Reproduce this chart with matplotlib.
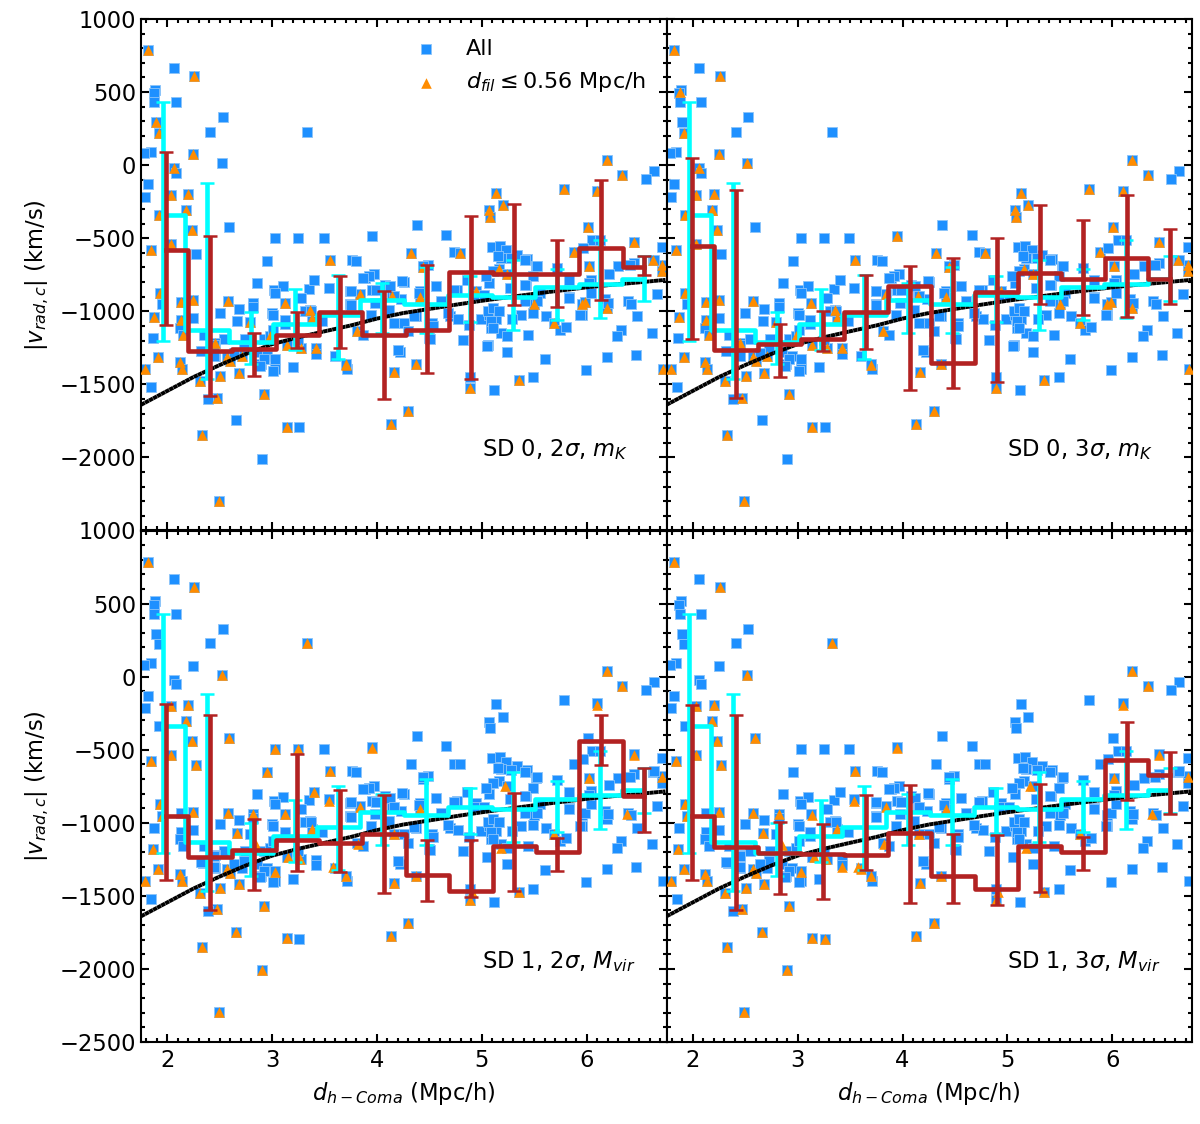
import matplotlib
matplotlib.use('Agg')
import matplotlib.pyplot as plt
from matplotlib.ticker import MultipleLocator, FuncFormatter
import numpy as np

# all galaxies: (d_h-Coma, v)
all_points = [
    (1.82,785),(2.06,666),(2.26,610),(1.885,516),(1.87,493),(1.876,432),(2.08,432),(2.53,329),(1.895,295),(1.92,220),
    (2.41,227),(3.33,227),(1.845,92),(1.78,83),(2.25,76),(2.52,12),(2.06,-22),(2.08,-51),(1.82,-131),(1.79,-217),
    (2.035,-202),(2.2,-197),(2.18,-304),(1.925,-338),(2.235,-443),(2.59,-420),(3.03,-496),(3.25,-498),(3.49,-498),(3.95,-484),
    (2.035,-537),(1.845,-578),(2.27,-605),(2.955,-655),(3.55,-646),(3.76,-646),(3.8,-655),
    (1.93,-874),(2.13,-935),(2.25,-924),(2.575,-933),(1.95,-953),(2.5,-1010),(2.68,-983),(1.87,-1038),(2.13,-1063),
    (2.25,-1047),(2.67,-1068),(2.82,-942),(2.82,-970),(2.86,-805),(3.02,-851),(3.1,-824),(3.03,-874),(3.35,-846),(3.4,-789),
    (3.54,-839),(3.28,-908),(3.125,-942),(3.36,-988),(3.38,-1045),(3.0,-1010),(2.79,-1074),(2.12,-1113),(2.155,-1159),(1.86,-1181),
    (2.35,-1159),(2.545,-1193),(2.455,-1220),(1.915,-1314),(1.79,-1398),(2.12,-1348),(2.14,-1398),(1.85,-1519),(2.34,-1273),(2.455,-1307),
    (2.57,-1314),(2.6,-1341),(2.71,-1307),(2.505,-1443),(2.31,-1478),(2.68,-1420),(2.47,-1591),(2.385,-1603),(2.92,-1569),(2.66,-1746),
    (3.14,-1790),(3.26,-1792),(2.33,-1847),(2.9,-2008),(2.49,-2298),(4.13,-1774),(3.2,-1382),(3.03,-1398),(2.89,-1364),(2.95,-1307),
    (3.03,-1329),(3.71,-1398),(3.7,-1364),(3.6,-1307),(4.165,-1414),(3.42,-1254),(3.42,-1290),(3.745,-863),(3.745,-953),(3.89,-771),
    (3.97,-748),(3.84,-885),(4.08,-817),(3.95,-851),(3.98,-940),(4.145,-897),(3.81,-1136),(2.92,-1193),(2.98,-1170),(3.14,-1234),
    (3.28,-1250),(3.01,-1125),(3.12,-1090),(2.74,-1193),(2.73,-1261),(2.855,-1282),(2.92,-1329),
    (6.19,38),(6.34,-65),(6.64,-38),(6.56,-92),(5.78,-163),(6.1,-179),(5.13,-190),(5.2,-275),(5.07,-309),(5.08,-354),
    (6.01,-422),(4.38,-407),(4.66,-477),(4.32,-600),(4.73,-596),(4.79,-600),(6.45,-528),(6.05,-509),(6.13,-509),(6.72,-559),
    (5.1,-559),(5.17,-550),(5.23,-582),(5.18,-634),(5.43,-641),(5.88,-596),(5.96,-566),(5.33,-612),(6.02,-692),(5.52,-692),
    (4.49,-680),(4.44,-699),(5.16,-714),(5.24,-748),(6.3,-692),(6.45,-668),(6.63,-651),(6.72,-680),(6.72,-726),(6.21,-742),
    (6.04,-783),(4.255,-801),(4.56,-828),(4.41,-862),(4.41,-903),(4.76,-851),(4.94,-862),(5.07,-805),(5.27,-839),(5.42,-817),
    (5.55,-874),(5.5,-947),(5.83,-901),(5.95,-947),(5.985,-935),(6.19,-976),(6.17,-919),(6.04,-874),(6.39,-931),(6.42,-949),
    (6.67,-885),(4.23,-919),(4.61,-931),(4.37,-1033),(4.255,-1079),(4.525,-1079),(4.7,-1033),(4.77,-1051),(4.88,-1095),(4.99,-1056),
    (5.07,-1022),(5.13,-1056),(5.09,-1113),(5.18,-1147),(5.24,-1170),(5.37,-1022),(5.49,-1015),(5.29,-1056),(5.44,-1159),(5.61,-1033),
    (5.69,-1079),(5.74,-1125),(5.8,-1106),(5.95,-1024),(6.48,-1033),(6.33,-1125),(6.29,-1170),(6.62,-1147),(4.5,-1181),(4.82,-1195),
    (5.06,-1234),(5.24,-1280),(5.6,-1325),(6.19,-1316),(6.47,-1302),(4.22,-1282),(4.37,-1362),(5.99,-1403),(5.35,-1473),(5.49,-1450),
    (4.89,-1450),(4.89,-1526),(5.12,-1539),(4.3,-1683),(6.73,-1398),
    (5.11,-725),(5.04,-760),(4.44,-690),(3.92,-760),(3.87,-772),(4.24,-795),(4.73,-855),(4.86,-786),(3.75,-861),(4.4,-875),
    (4.12,-828),(3.99,-855),(4.16,-895),(3.75,-957),(4.11,-991),(4.68,-1012),(4.35,-1032),(3.94,-1025),(4.53,-1100),(3.48,-1066),
    (4.3,-1135),(3.87,-1162),(4.51,-1189),(5.05,-1237),(4.2,-1264),(5.06,-998),(5.09,-1066),(5.11,-977),(4.92,-889),(5.02,-889),
    (5.15,-622),(5.28,-636),(5.41,-650),(5.53,-690),(5.49,-759),(5.41,-820),(5.72,-704),(5.83,-786),(6.02,-807),(6.41,-684),
    (6.64,-649),(6.2,-943),(5.83,-909),(5.94,-1025),(5.16,-998),(5.11,-1114),(5.41,-930),(5.53,-930),(3.31,-998),(3.37,-998),
    (3.01,-1408),(2.88,-1374),(2.64,-1285),(2.45,-1305),(2.32,-1271),(2.45,-1230),(3.12,-1060),(3.01,-1025),(3.25,-1196),(4.16,-1080),
]

# filament members seen in every panel
tri_common = [
    (1.82,785),(2.26,610),(2.035,-202),(2.2,-197),(2.235,-443),(2.035,-537),(1.845,-578),(2.18,-304),(3.55,-646),
    (1.915,-1314),(1.79,-1398),(2.57,-1314),(2.6,-1341),(2.505,-1443),(2.68,-1420),(2.31,-1478),(2.47,-1591),(2.92,-1569),
    (3.14,-1790),(2.33,-1847),(2.49,-2298),(4.13,-1774),(4.3,-1683),(4.165,-1414),(3.7,-1367),(2.12,-1348),(2.14,-1398),
    (4.37,-1362),(5.35,-1473),(4.89,-1526),(6.34,-65),(6.19,38),
]
tri_sd0 = [
    (1.92,220),(2.25,76),(2.06,-22),(1.925,-338),(1.93,-874),(2.13,-935),(2.25,-924),(2.575,-933),(1.87,-1038),(2.13,-1063),
    (2.79,-1074),(2.155,-1159),(2.455,-1220),(2.71,-1307),(3.125,-942),(3.36,-988),(3.38,-1045),(2.98,-1170),(3.14,-1234),
    (3.28,-1250),(3.42,-1254),(3.84,-885),(3.81,-1136),(4.145,-897),(5.78,-163),(6.1,-179),(5.13,-190),(5.2,-275),(5.07,-309),
    (5.08,-354),(6.01,-422),(4.32,-600),(4.79,-600),(6.45,-528),(5.88,-596),(6.02,-692),(4.44,-699),(5.16,-714),(5.24,-748),
    (6.63,-651),(6.72,-680),(6.72,-726),(4.41,-903),(4.94,-862),(5.5,-947),(5.95,-947),(5.985,-935),(6.19,-976),(5.69,-1079),(6.73,-1398),
]
tri_sd1 = [
    (3.33,227),(2.52,12),(2.59,-420),(2.27,-605),(1.93,-874),(2.25,-924),(2.575,-933),(2.82,-942),(3.38,-1045),(2.67,-1068),
    (1.95,-953),(2.85,-1152),(1.86,-1181),(3.03,-1340),(3.155,-1237),(3.27,-1250),(2.66,-1746),(2.9,-2008),(3.95,-487),(6.1,-191),
    (6.45,-533),(6.72,-684),(6.02,-692),(5.22,-748),(6.38,-937),(5.69,-1079),(5.18,-1170),(3.54,-848),(3.84,-889),(4.41,-909),
    (4.16,-1080),(3.82,-1148),(3.58,-1305),(4.91,-1476),
]
tri_panel = [
    [(1.895,295),(3.7,-1364)],
    [(1.88,500),(2.52,12),(3.95,-487),(2.18,-304)],
    [(3.03,-496),(3.25,-498),(2.955,-655),(3.4,-789),(3.125,-942)],
    [(3.26,-1792),(3.14,-950),(3.42,-1305),(3.6,-1319)],
]

# black model curve
curve_x = [1.75,2.0,2.25,2.5,2.75,3.0,3.25,3.5,3.75,4.0,4.25,4.5,4.75,5.0,5.25,5.5,5.75,6.0,6.25,6.5,6.75]
curve_y = [-1640,-1545,-1450,-1368,-1292,-1225,-1178,-1137,-1097,-1050,-1012,-984,-955,-928,-904,-880,-858,-836,-818,-802,-785]

# cyan binned profile, same in all panels
cyan_x = [1.96,2.38,2.80,3.22,3.63,4.05,4.47,4.89,5.30,5.72,6.13,6.55]
cyan_y = [-338,-1130,-1207,-1088,-1028,-925,-950,-890,-905,-835,-812,-778]
cyan_hi = [432,-120,-1003,-846,-750,-805,-700,-760,-650,-714,-509,-622]
cyan_lo = [-1206,-1466,-1364,-1266,-1325,-1150,-1150,-1075,-1130,-1060,-1044,-930]

# red binned profile per panel
red_x = [1.99,2.41,2.83,3.24,3.65,4.07,4.48,4.90,5.31,5.72,6.14,6.55]
red_y = [
    [-578,-1273,-1261,-1165,-1006,-1159,-1131,-733,-742,-748,-564,-694],
    [-555,-1268,-1227,-1193,-1008,-824,-1357,-865,-735,-776,-632,-776],
    [-955,-1237,-1183,-1121,-1141,-1080,-1358,-1470,-1160,-1201,-437,-820],
    [-955,-1167,-1204,-1217,-1222,-1073,-1367,-1450,-1162,-1203,-567,-670],
]
red_hi = [
    [92,-482,-1152,-1006,-760,-863,-680,-345,-263,-509,-99,-624],
    [49,-168,-1090,-1000,-755,-692,-632,-496,-270,-373,-202,-434],
    [-185,-260,-977,-526,-777,-807,-1121,-1119,-793,-1107,-265,-622],
    [-191,-260,-996,-1005,-807,-743,-1080,-1085,-738,-1100,-308,-513],
]
red_lo = [
    [-1097,-1580,-1446,-1254,-1254,-1598,-1425,-1466,-958,-972,-926,-753],
    [-1193,-1596,-1453,-1275,-1261,-1541,-1528,-1487,-953,-1022,-1036,-953],
    [-1394,-1597,-1463,-1333,-1338,-1483,-1538,-1510,-1470,-1330,-608,-1066],
    [-1394,-1600,-1484,-1519,-1326,-1547,-1547,-1560,-1476,-1320,-841,-943],
]

panel_text = [r'SD 0, 2$\sigma$, $m_K$', r'SD 0, 3$\sigma$, $m_K$',
              r'SD 1, 2$\sigma$, $M_{vir}$', r'SD 1, 3$\sigma$, $M_{vir}$']

plt.rcParams['font.size'] = 16.3
plt.rcParams['mathtext.default'] = 'it'

fig, axes = plt.subplots(2, 2, figsize=(12, 11.24), dpi=100)
fig.subplots_adjust(left=141/1200, right=1192/1200, top=1-19/1124, bottom=1-1042/1124, wspace=0, hspace=0)

px, py = zip(*all_points)
for i, ax in enumerate(axes.flat):
    tri = tri_common + (tri_sd0 if i < 2 else tri_sd1) + tri_panel[i]
    tx, ty = zip(*tri)
    ax.scatter(px, py, marker='s', s=58, color='dodgerblue', linewidths=0.6, edgecolors='#8cc4f8', label='All', zorder=2)
    ax.scatter(tx, ty, marker='^', s=58, color='darkorange', linewidths=0, label=r'$d_{fil} \leq 0.56$ Mpc/h', zorder=3)
    ax.plot(curve_x, curve_y, color='k', lw=2.8, linestyle=(0, (1.1, 0.08)), zorder=4)

    c = np.array(cyan_y)
    ax.errorbar(cyan_x, c, yerr=[c - np.array(cyan_lo), np.array(cyan_hi) - c], color='cyan', lw=3.3, elinewidth=3.3,
                capsize=5, capthick=1.8, drawstyle='steps-mid', zorder=5)
    r = np.array(red_y[i])
    ax.errorbar(red_x, r, yerr=[r - np.array(red_lo[i]), np.array(red_hi[i]) - r], color='firebrick', lw=3.3, elinewidth=3.3,
                capsize=5, capthick=1.8, drawstyle='steps-mid', zorder=6)

    ax.set_xlim(1.75, 6.76)
    ax.set_ylim(-2500, 1000)
    ax.xaxis.set_major_locator(MultipleLocator(1))
    ax.xaxis.set_minor_locator(MultipleLocator(0.1))
    ax.yaxis.set_major_locator(MultipleLocator(500))
    ax.yaxis.set_minor_locator(MultipleLocator(100))
    ax.tick_params(which='major', direction='in', top=True, right=True, length=6, width=1.5)
    ax.tick_params(which='minor', direction='in', top=True, right=True, length=3, width=1.5)
    ax.tick_params(axis='x', pad=5)
    ax.tick_params(labelbottom=i >= 2, labelleft=i % 2 == 0)
    for s in ax.spines.values():
        s.set_linewidth(1.5)
    ax.text(0.648, 0.158, panel_text[i], transform=ax.transAxes, va='center', ha='left')

for ax in axes[1]:
    ax.set_xlabel(r'$d_{h-Coma}$ (Mpc/h)', labelpad=6)
for ax in axes[:, 0]:
    ax.set_ylabel(r'$|v_{rad,c}|$ (km/s)', labelpad=6)

# the -2500 label of the upper panel would run into the 1000 below it
axes[0, 0].yaxis.set_major_formatter(FuncFormatter(lambda v, p: '' if v == -2500 else f'{v:.0f}'.replace('-', '\u2212')))

axes[0, 0].legend(loc='upper right', frameon=False, fontsize=16, bbox_to_anchor=(1 - 7/525, 1 - 7/512), borderaxespad=0.2, handletextpad=0.8)

fig.savefig('out.png', dpi=100)
